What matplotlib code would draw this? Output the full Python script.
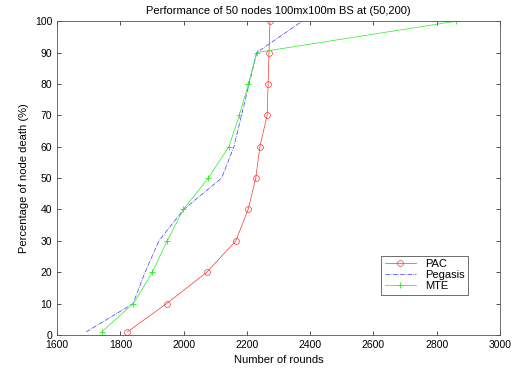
import matplotlib
matplotlib.use("Agg")
import matplotlib.pyplot as plt

pct = [1, 10, 20, 30, 40, 50, 60, 70, 80, 90, 100]
pac_rounds = [1822, 1946, 2073, 2165, 2204, 2228, 2241, 2264, 2267, 2270, 2273]
pegasis_rounds = [1692, 1840, 1878, 1922, 2000, 2120, 2159, 2183, 2207, 2231, 2375]
mte_rounds = [1741, 1841, 1901, 1948, 1999, 2078, 2143, 2176, 2205, 2231, 2862]

plt.rcParams['font.family'] = ['Liberation Sans', 'DejaVu Sans']
plt.rcParams['font.size'] = 7.5

fig = plt.figure(figsize=(5.29, 3.71), dpi=100)
ax = fig.add_axes([0.108, 0.097, 0.837, 0.846])

ax.plot(pac_rounds, pct, color='#ff3333', linewidth=0.5, marker='o',
        markersize=4.2, markerfacecolor='none', markeredgewidth=0.5, label='PAC')
ax.plot(pegasis_rounds, pct, color='#3333ff', linewidth=0.5, linestyle='-.',
        label='Pegasis')
ax.plot(mte_rounds, pct, color='#22ee22', linewidth=0.5, marker='+',
        markersize=4.5, markeredgewidth=0.6, label='MTE')

ax.set_xlim(1600, 3000)
ax.set_ylim(0, 100)
ax.set_xticks(range(1600, 3001, 200))
ax.set_yticks(range(0, 101, 10))
ax.tick_params(direction='in', length=3, width=0.6, top=True, right=True,
               colors='#333333', labelcolor='black')
for s in ax.spines.values():
    s.set_linewidth(0.6)
    s.set_color('#555555')

ax.set_title("Performance of 50 nodes 100mx100m BS at (50,200)", fontsize=8, pad=5)
ax.set_xlabel("Number of rounds", fontsize=8)
ax.set_ylabel("Percentage of node death (%)", fontsize=8)

leg = ax.legend(loc='upper left', bbox_to_anchor=(0.72, 0.27), fontsize=8,
                fancybox=False, framealpha=1, edgecolor='#555555',
                handlelength=2.8, borderpad=0.3, labelspacing=0.1)
leg.get_frame().set_linewidth(0.6)

fig.savefig("out.png", dpi=100)
